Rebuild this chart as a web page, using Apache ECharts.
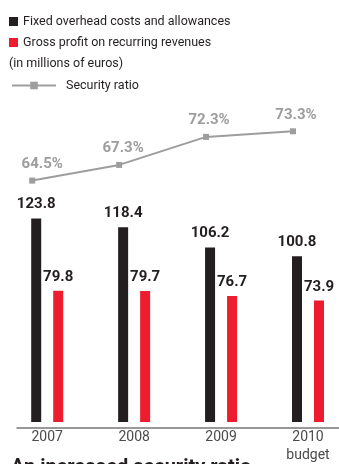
<!DOCTYPE html>
<html>
<head>
<meta charset="utf-8">
<script src="https://cdn.jsdelivr.net/npm/echarts@6/dist/echarts.min.js"></script>
<style>
  html, body { margin: 0; padding: 0; background: #ffffff; }
  #chart { width: 339px; height: 464px; }
</style>
</head>
<body>
<div id="chart"></div>
<script>
// Chart data
var years = ['2007', '2008', '2009', '2010\nbudget'];
var fixedOverhead = [123.8, 118.4, 106.2, 100.8];
var grossProfit = [79.8, 79.7, 76.7, 73.9];
var securityRatio = [64.5, 67.3, 72.3, 73.3];

var BLACK = '#231f20';
var RED = '#ed1c2e';
var GREY = '#9d9d9e';
var FONT = 'Roboto';

// Per-point nudges for the ratio labels
var ratioLabelOffsets = [[10, 0], [4, 0], [3, 0], [3, 0]];

var chart = echarts.init(document.getElementById('chart'), null, { renderer: 'canvas' });

// Both grids share the vertical extent; the ratio line sits a little left of the bar pairs
var plotTop = 96, plotBottom = 38, stepWidth = 260.8;

chart.setOption({
  animation: false,
  backgroundColor: '#ffffff',
  textStyle: { fontFamily: FONT },
  grid: [
    { left: 47.2, width: stepWidth, top: plotTop, bottom: plotBottom, containLabel: false },
    { left: 32.2, width: stepWidth, top: plotTop, bottom: plotBottom, containLabel: false }
  ],
  xAxis: [
    {
      type: 'category', gridIndex: 0, data: years, boundaryGap: false,
      axisLine: { show: false }, axisTick: { show: false }, splitLine: { show: false },
      axisLabel: { color: '#4b4b4d', fontSize: 14, fontFamily: FONT, margin: 6, lineHeight: 18 }
    },
    {
      type: 'category', gridIndex: 1, data: years, boundaryGap: false, show: false
    }
  ],
  yAxis: [
    { type: 'value', gridIndex: 0, min: 0, max: 198.3, show: false, splitLine: { show: false } },
    { type: 'value', gridIndex: 1, min: 20.7, max: 79.6, show: false, splitLine: { show: false } }
  ],
  legend: [
    {
      orient: 'vertical', left: 9, top: 14.5, padding: 0,
      itemWidth: 9, itemHeight: 9, itemGap: 7, icon: 'rect',
      textStyle: { fontSize: 12.5, color: BLACK, fontFamily: FONT, lineHeight: 14 },
      data: ['Fixed overhead costs and allowances', 'Gross profit on recurring revenues']
    },
    {
      orient: 'vertical', left: 11, top: 79, padding: 0,
      itemWidth: 44, itemHeight: 9.5,
      textStyle: { fontSize: 12.5, color: BLACK, fontFamily: FONT, padding: [0, 0, 0, 5] },
      data: ['Security ratio']
    }
  ],
  graphic: [
    {
      type: 'text', left: 9, top: 57,
      style: { text: '(in millions of euros)', fontSize: 12.5, fontFamily: FONT, fill: BLACK }
    },
    {
      type: 'line', left: 14, top: 425.5, silent: true,
      shape: { x1: 0, y1: 0, x2: 330, y2: 0 },
      style: { stroke: '#333333', lineWidth: 1 }
    },
    {
      type: 'text', left: 11, top: 458,
      style: { text: 'An increased security ratio', fontSize: 20, fontWeight: 'bold', fontFamily: FONT, fill: BLACK }
    }
  ],
  series: [
    {
      name: 'Fixed overhead costs and allowances',
      type: 'bar', xAxisIndex: 0, yAxisIndex: 0,
      data: fixedOverhead, barWidth: 10, barGap: '120%',
      itemStyle: { color: BLACK },
      label: { show: true, position: 'top', distance: 6.5, color: BLACK, fontSize: 15, fontWeight: 'bold', fontFamily: FONT }
    },
    {
      name: 'Gross profit on recurring revenues',
      type: 'bar', xAxisIndex: 0, yAxisIndex: 0,
      data: grossProfit, barWidth: 10, barGap: '120%',
      itemStyle: { color: RED },
      label: { show: true, position: 'top', distance: 6, color: BLACK, fontSize: 15, fontWeight: 'bold', fontFamily: FONT }
    },
    {
      name: 'Security ratio',
      type: 'line', xAxisIndex: 1, yAxisIndex: 1,
      data: securityRatio.map(function (v, i) {
        return { value: v, label: { offset: ratioLabelOffsets[i] } };
      }),
      symbol: 'rect', symbolSize: 6,
      lineStyle: { color: GREY, width: 2 },
      itemStyle: { color: GREY },
      label: {
        show: true, position: 'top', distance: 6,
        color: GREY, fontSize: 15, fontWeight: 'bold', fontFamily: FONT,
        formatter: function (p) { return p.value.toFixed(1) + '%'; }
      }
    }
  ]
});
</script>
</body>
</html>
